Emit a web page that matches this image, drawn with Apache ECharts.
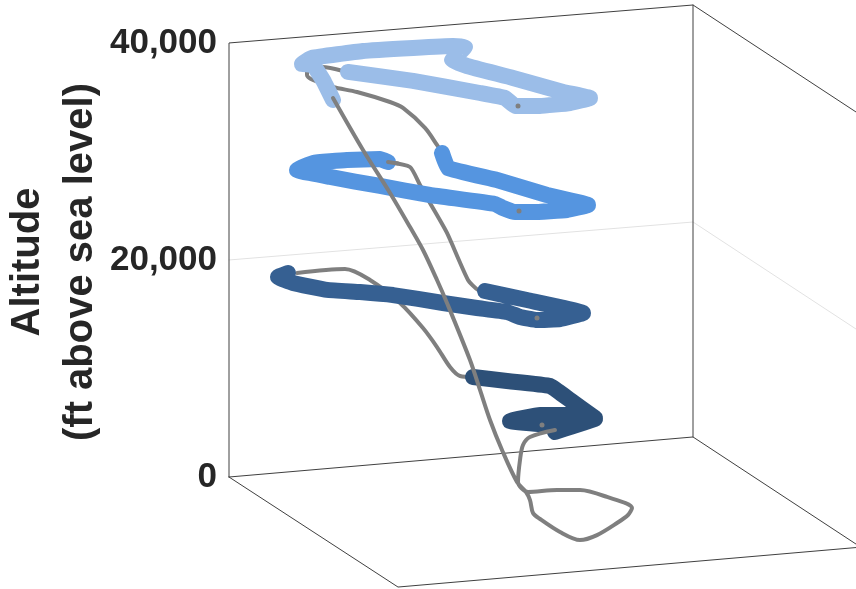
<!DOCTYPE html>
<html>
<head>
<meta charset="utf-8">
<style>
  html, body { margin: 0; padding: 0; background: #fff; }
  #chart { width: 856px; height: 589px; }
</style>
<script src="https://cdn.jsdelivr.net/npm/echarts@6/dist/echarts.min.js"></script>
</head>
<body>
<div id="chart"></div>
<script>
// altitude ticks
var tickValues = [0, 20000, 40000]

// thick legs, x = position across the picture, alt = feet
var lightX = [333, 323, 313, 302, 312, 363, 413, 453, 465, 457, 452, 467, 513, 563, 590, 570, 540, 515, 505, 480, 413, 348]
var lightAlt = [34750, 36590, 37970, 38070, 38620, 39260, 39540, 39720, 39630, 38900, 38430, 37880, 36780, 35480, 34930, 34470, 34200, 34200, 34930, 35390, 36500, 37330]
var midX = [442, 448, 497, 547, 588, 567, 533, 515, 503, 495, 430, 380, 330, 297, 313, 347, 380, 388]
var midAlt = [29860, 28480, 27370, 25990, 25070, 24610, 24420, 24420, 24790, 25160, 25990, 26820, 27650, 28300, 28940, 29220, 29310, 29030]
var darkX = [485, 527, 583, 560, 537, 520, 507, 477, 443, 393, 360, 327, 293, 278, 288]
var darkAlt = [17140, 16310, 15120, 14560, 14470, 14750, 15210, 15580, 16040, 16770, 17050, 17240, 17880, 18430, 18800]
var navyX = [473, 507, 550, 570, 595, 573, 540, 510, 540, 595, 573, 555]
var navyAlt = [9220, 8850, 8390, 7100, 5440, 5710, 5710, 5160, 4880, 5350, 4700, 4150]

// thin grey legs between the thick ones
var climbX = [555, 530, 523, 520, 518, 528, 557, 580, 607, 632, 628, 617, 597, 580, 560, 540, 533, 530, 526, 517, 502, 490, 480, 470, 447, 437, 423, 410, 390, 363, 333]
var climbAlt = [4330, 3690, 2950, 1570, -460, -1380, -1200, -1200, -1840, -2860, -3500, -4240, -5350, -5810, -5070, -3870, -3320, -2120, -1380, -460, 2490, 5250, 8020, 10780, 16040, 18160, 20920, 23040, 26180, 30140, 34930]
var lightToMidX = [343, 322, 307, 307, 313, 333, 357, 390, 403, 425, 437, 442]
var lightToMidAlt = [37420, 37790, 37330, 37050, 36590, 35940, 35480, 34560, 34010, 32170, 30600, 29860]
var midToDarkX = [388, 410, 420, 430, 447, 468, 478, 485]
var midToDarkAlt = [29030, 28570, 26910, 25250, 22490, 18160, 17240, 17140]
var midEndX = [388, 398]
var midEndAlt = [29030, 28900]
var darkToNavyX = [297, 345, 370, 400, 423, 437, 450, 460, 473]
var darkToNavyAlt = [18800, 19170, 18160, 16040, 13730, 11980, 10140, 9310, 9220]

// small markers near the end of each thick leg
var dotX = [518, 519, 537, 542]
var dotAlt = [34200, 24510, 14660, 4790]

// frame of the box
var frameX = [229, 229, 693, 856]
var frameAlt = [0, 40000, 43500, 33640]
var backX = [693, 693]
var backAlt = [43500, 3690]
var wallX = [229, 693, 856]
var wallAlt = [0, 3690, -6180]
var floorX = [229, 398, 856]
var floorAlt = [0, -10140, -6500]
var gridX = [229, 693, 856]
var gridAlt = [20000, 23500, 13640]

function zip(xs, ys) {
  return xs.map(function (x, i) { return [x, ys[i]] })
}

function leg(name, xs, ys, color, width, smooth, z) {
  return {
    name: name,
    type: 'line',
    data: zip(xs, ys),
    symbol: 'none',
    clip: false,
    z: z || 2,
    smooth: smooth || false,
    lineStyle: { color: color, width: width, cap: 'round', join: 'round' }
  }
}

var chart = echarts.init(document.getElementById('chart'))
chart.setOption({
  animation: false,
  backgroundColor: '#fff',
  grid: { left: 229, right: 0, top: 0, bottom: 0 },
  xAxis: { type: 'value', min: 229, max: 856, show: false },
  yAxis: {
    type: 'value',
    min: -10320,
    max: 43960,
    axisLine: { show: false },
    axisTick: { show: false },
    splitLine: { show: false },
    axisLabel: {
      customValues: tickValues,
      margin: 12,
      padding: [0, 0, 4, 0],
      fontFamily: 'Liberation Sans',
      fontWeight: 'bold',
      fontSize: 35,
      color: '#262626',
      formatter: function (v) { return v.toLocaleString('en-US') }
    }
  },
  graphic: [{
    type: 'text',
    x: 54,
    y: 262,
    rotation: Math.PI / 2,
    style: {
      text: 'Altitude\n(ft above sea level)',
      fontFamily: 'Liberation Sans',
      fontWeight: 'bold',
      fontSize: 40,
      lineHeight: 53,
      fill: '#262626',
      textAlign: 'center',
      textVerticalAlign: 'middle'
    }
  }],
  series: [
    leg('grid', gridX, gridAlt, '#e2e2e2', 1),
    leg('frame', frameX, frameAlt, '#404040', 1),
    leg('back', backX, backAlt, '#404040', 1),
    leg('wall', wallX, wallAlt, '#404040', 1),
    leg('floor', floorX, floorAlt, '#404040', 1),
    leg('lightToMid', lightToMidX, lightToMidAlt, '#7f7f7f', 4, 0.3, 3),
    leg('midToDark', midToDarkX, midToDarkAlt, '#7f7f7f', 4, 0.2, 3),
    leg('darkToNavy', darkToNavyX, darkToNavyAlt, '#7f7f7f', 4, 0.3, 3),
    leg('light', lightX, lightAlt, '#9bbde8', 16, 0.1, 4),
    leg('mid', midX, midAlt, '#5595e0', 16, 0.1, 4),
    leg('dark', darkX, darkAlt, '#366092', 16, 0.1, 4),
    leg('navy', navyX, navyAlt, '#2d5078', 16, 0.1, 4),
    leg('midEnd', midEndX, midEndAlt, '#7f7f7f', 4, false, 5),
    leg('climb', climbX, climbAlt, '#7f7f7f', 4, 0.3, 5),
    {
      name: 'dots',
      type: 'scatter',
      data: zip(dotX, dotAlt),
      symbol: 'circle',
      symbolSize: 5,
      clip: false,
      z: 6,
      itemStyle: { color: '#7f7f7f', opacity: 1 }
    }
  ]
})
</script>
</body>
</html>
